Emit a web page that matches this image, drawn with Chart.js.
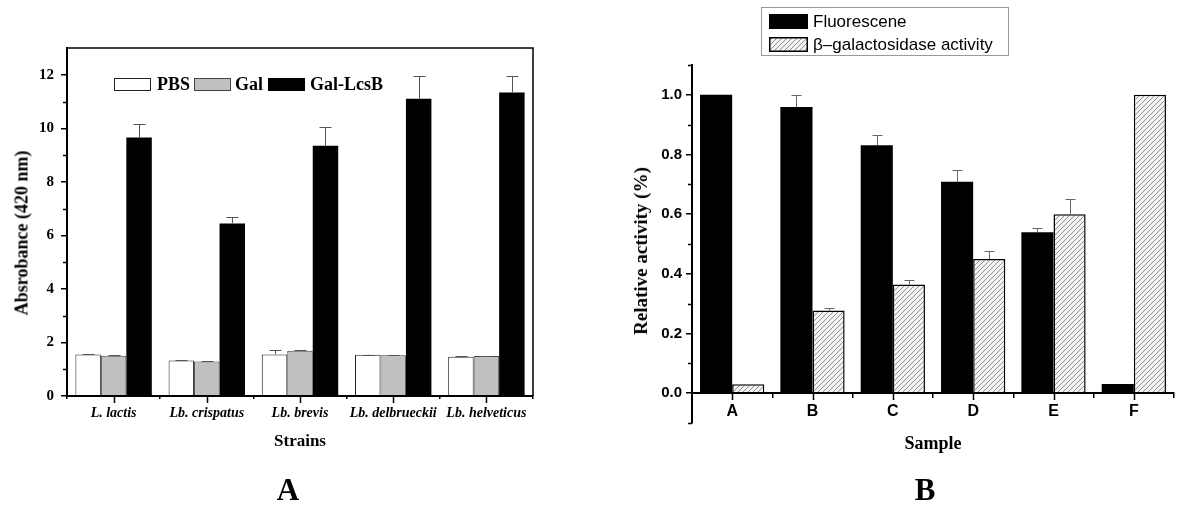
<!DOCTYPE html>
<html><head><meta charset="utf-8">
<script src="https://cdn.jsdelivr.net/npm/chart.js@4/dist/chart.umd.min.js"></script>
<style>
html,body{margin:0;padding:0;background:#fff;width:1200px;height:512px;overflow:hidden}
.wrap{position:absolute;top:0;width:600px;height:512px}
.t{position:absolute;font-family:"Liberation Serif","Times New Roman",serif;font-weight:bold;color:#000;white-space:nowrap;transform:translate(-50%,-50%)}
.rot{transform:translate(-50%,-50%) rotate(-90deg)}
</style></head><body>
<div class="wrap" style="left:0"><canvas id="ca" width="600" height="512"></canvas></div>
<div class="wrap" style="left:600px"><canvas id="cb" width="600" height="512"></canvas></div>
<div class="t rot" style="left:22px;top:233px;font-size:18px">Absrobance (420 nm)</div>
<div class="t" style="left:300px;top:441px;font-size:17px">Strains</div>
<div class="t" style="left:288px;top:490px;font-size:31px">A</div>
<div class="t rot" style="left:641px;top:251px;font-size:19px">Relative activity (%)</div>
<div class="t" style="left:933px;top:443px;font-size:18px">Sample</div>
<div class="t" style="left:925px;top:490px;font-size:31px">B</div>
<script>
// ---------- Panel A data ----------
const strains = ['L. lactis','Lb. crispatus','Lb. brevis','Lb. delbrueckii','Lb. helveticus'];
const seriesA = ['PBS','Gal','Gal-LcsB'];
const pbs = [1.55,1.33,1.55,1.54,1.47];
const pbsErr = [0.02,0.02,0.15,0.01,0.01];
const gal = [1.50,1.29,1.69,1.52,1.49];
const galErr = [0.02,0.02,0.03,0.02,0.02];
const galLcsB = [9.66,6.44,9.35,11.10,11.34];
const galLcsBErr = [0.51,0.24,0.69,0.86,0.62];
const yTicksA = [0,2,4,6,8,10,12];
const yTickLabelsA = ['0','2','4','6','8','10','12'];
const yMinorA = [1,3,5,7,9,11];

// ---------- Panel B data ----------
const samples = ['A','B','C','D','E','F'];
const seriesB = ['Fluorescene','\u03B2\u2013galactosidase activity'];
const fluor = [1.0,0.959,0.831,0.709,0.539,0.031];
const fluorErr = [0,0.041,0.036,0.039,0.014,0];
const bgal = [0.03,0.277,0.364,0.45,0.60,1.0];
const bgalErr = [0,0.007,0.015,0.027,0.051,0];
const yTicksB = [0,0.2,0.4,0.6,0.8,1.0];
const yTickLabelsB = ['0.0','0.2','0.4','0.6','0.8','1.0'];
const yMinorB = [-0.1,0.1,0.3,0.5,0.7,0.9,1.1];

const SERIF = '"Liberation Serif","Times New Roman",serif';
const SANS = '"Liberation Sans",Arial,sans-serif';

function makeHatch(){
  const n = 5;
  const c = document.createElement('canvas'); c.width = n; c.height = n;
  const g = c.getContext('2d');
  g.fillStyle = '#f3f3f3'; g.fillRect(0,0,n,n);
  g.strokeStyle = '#909090'; g.lineWidth = 1;
  g.beginPath();
  g.moveTo(0,n); g.lineTo(n,0);
  g.moveTo(-1,1); g.lineTo(1,-1);
  g.moveTo(n-1,n+1); g.lineTo(n+1,n-1);
  g.stroke();
  return g.createPattern(c,'repeat');
}
const hatch = makeHatch();

function errorBars(errs, color, cap){
  return { id:'errbars', afterDatasetsDraw(chart){
    const ctx = chart.ctx, ys = chart.scales.y;
    ctx.save(); ctx.strokeStyle = color; ctx.lineWidth = 1;
    chart.data.datasets.forEach((ds,di)=>{
      chart.getDatasetMeta(di).data.forEach((bar,i)=>{
        const e = errs[di][i]; if(!e) return;
        const top = Math.round(ys.getPixelForValue(ds.data[i]+e))+0.5;
        const x = Math.round(bar.x)+0.5;
        ctx.beginPath();
        ctx.moveTo(x, bar.y); ctx.lineTo(x, top);
        ctx.moveTo(x-cap/2, top); ctx.lineTo(x+cap/2, top);
        ctx.stroke();
      });
    });
    ctx.restore();
  }};
}

// ---------- Chart A ----------
const decoA = { id:'decoA', afterDraw(chart){
  const ctx = chart.ctx, a = chart.chartArea, xs = chart.scales.x, ys = chart.scales.y;
  ctx.save();
  ctx.strokeStyle = '#000';
  ctx.lineWidth = 1.5;
  ctx.beginPath();
  ctx.moveTo(a.left, a.top); ctx.lineTo(a.right, a.top); ctx.lineTo(a.right, a.bottom);
  ctx.stroke();
  ctx.lineWidth = 2;
  ctx.beginPath();
  ctx.moveTo(a.left, a.top); ctx.lineTo(a.left, a.bottom); ctx.lineTo(a.right, a.bottom);
  ctx.stroke();
  ctx.lineWidth = 1.5;
  ctx.beginPath();
  yMinorA.forEach(v=>{ const y = Math.round(ys.getPixelForValue(v))+0.5; ctx.moveTo(a.left, y); ctx.lineTo(a.left-4, y); });
  strains.forEach((s,i)=>{ const x = Math.round(xs.getPixelForValue(i))+0.5; ctx.moveTo(x, a.bottom); ctx.lineTo(x, a.bottom+7); });
  ctx.stroke();
  // legend
  const lx = [114,194,268], tx = [157,235,310];
  const ly = 78, bw = 37, bh = 13;
  ctx.font = 'bold 18px ' + SERIF; ctx.textBaseline = 'middle';
  chart.data.datasets.forEach((ds,i)=>{
    ctx.fillStyle = ds.backgroundColor; ctx.fillRect(lx[i], ly, bw, bh);
    ctx.strokeStyle = ds.borderColor || '#000'; ctx.lineWidth = 1;
    ctx.strokeRect(lx[i]+0.5, ly+0.5, bw-1, bh-1);
    ctx.fillStyle = '#000'; ctx.fillText(ds.label, tx[i], ly+bh/2+1);
  });
  ctx.restore();
}};

new Chart(document.getElementById('ca'), {
  type:'bar',
  data:{ labels: strains, datasets:[
    {label:seriesA[0], data:pbs, backgroundColor:'#ffffff', borderColor:'#222', borderWidth:1},
    {label:seriesA[1], data:gal, backgroundColor:'#c0c0c0', borderColor:'#444', borderWidth:1},
    {label:seriesA[2], data:galLcsB, backgroundColor:'#000000', borderColor:'#000', borderWidth:0}
  ]},
  options:{
    responsive:false, animation:false, devicePixelRatio:1,
    layout:{padding:{left:0,right:67,top:48,bottom:0}},
    datasets:{bar:{categoryPercentage:0.82, barPercentage:1.0}},
    plugins:{legend:{display:false}, tooltip:{enabled:false}},
    scales:{
      x:{ grid:{display:true, drawOnChartArea:false, offset:true, tickLength:3, color:'#000', lineWidth:1.5},
          border:{display:true, color:'#000', width:2},
          ticks:{color:'#000', padding:6, maxRotation:0, autoSkip:false, font:{family:SERIF, style:'italic', weight:'bold', size:14}},
          afterFit:s=>{ s.height = 116; } },
      y:{ min:0, max:13,
          afterBuildTicks:s=>{ s.ticks = yTicksA.map(v=>({value:v})); },
          grid:{display:true, drawOnChartArea:false, tickLength:6, color:'#000', lineWidth:1.5},
          border:{display:true, color:'#000', width:2},
          ticks:{color:'#000', padding:7, font:{family:SERIF, weight:'bold', size:15}, callback:(v,i)=>yTickLabelsA[i]},
          afterFit:s=>{ s.width = 67; } }
    }
  },
  plugins:[errorBars([pbsErr,galErr,galLcsBErr],'#555',12), decoA]
});

// ---------- Chart B ----------
const decoB = { id:'decoB', afterDraw(chart){
  const ctx = chart.ctx, a = chart.chartArea, xs = chart.scales.x, ys = chart.scales.y;
  const y0 = Math.round(ys.getPixelForValue(0));
  ctx.save();
  ctx.strokeStyle = '#000';
  ctx.lineWidth = 2;
  ctx.beginPath();
  ctx.moveTo(a.left, a.top); ctx.lineTo(a.left, a.bottom);
  ctx.moveTo(a.left, y0); ctx.lineTo(a.right, y0);
  ctx.stroke();
  ctx.lineWidth = 1.5;
  ctx.beginPath();
  yMinorB.forEach(v=>{ const y = Math.round(ys.getPixelForValue(v))+0.5; ctx.moveTo(a.left, y); ctx.lineTo(a.left-4, y); });
  samples.forEach((s,i)=>{ const x = Math.round(xs.getPixelForValue(i))+0.5; ctx.moveTo(x, y0); ctx.lineTo(x, y0+7); });
  ctx.stroke();
  // legend
  ctx.fillStyle = '#fff'; ctx.fillRect(161,7,248,49);
  ctx.strokeStyle = '#999'; ctx.lineWidth = 1; ctx.strokeRect(161.5,7.5,247,48);
  const sy = [14,37];
  ctx.font = '17px ' + SANS; ctx.textBaseline = 'middle';
  chart.data.datasets.forEach((ds,i)=>{
    ctx.fillStyle = ds.backgroundColor; ctx.fillRect(169, sy[i], 39, 15);
    ctx.strokeStyle = '#000'; ctx.lineWidth = 1.5; ctx.strokeRect(169.75, sy[i]+0.75, 37.5, 13.5);
    ctx.fillStyle = '#000'; ctx.fillText(ds.label, 213, sy[i]+8);
  });
  ctx.restore();
}};

new Chart(document.getElementById('cb'), {
  type:'bar',
  data:{ labels: samples, datasets:[
    {label:seriesB[0], data:fluor, backgroundColor:'#000000', borderWidth:0},
    {label:seriesB[1], data:bgal, backgroundColor:hatch, borderColor:'#000', borderWidth:1.5}
  ]},
  options:{
    responsive:false, animation:false, devicePixelRatio:1,
    layout:{padding:{left:0,right:26,top:65,bottom:89}},
    datasets:{bar:{categoryPercentage:0.8, barPercentage:1.0}},
    plugins:{legend:{display:false}, tooltip:{enabled:false}},
    scales:{
      x:{ position:{y:0},
          grid:{display:true, drawOnChartArea:false, offset:true, tickLength:4, color:'#000', lineWidth:1.5},
          border:{display:true, color:'#000', width:2},
          ticks:{color:'#000', padding:5, maxRotation:0, autoSkip:false, font:{family:SANS, weight:'bold', size:16}} },
      y:{ min:-0.1, max:1.1,
          afterBuildTicks:s=>{ s.ticks = yTicksB.map(v=>({value:v})); },
          grid:{display:true, drawOnChartArea:false, tickLength:6, color:'#000', lineWidth:1.5},
          border:{display:true, color:'#000', width:2},
          ticks:{color:'#000', padding:4, font:{family:SANS, weight:'bold', size:15}, callback:(v,i)=>yTickLabelsB[i]},
          afterFit:s=>{ s.width = 92; } }
    }
  },
  plugins:[errorBars([fluorErr,bgalErr],'#666',10), decoB]
});
</script>
</body></html>
